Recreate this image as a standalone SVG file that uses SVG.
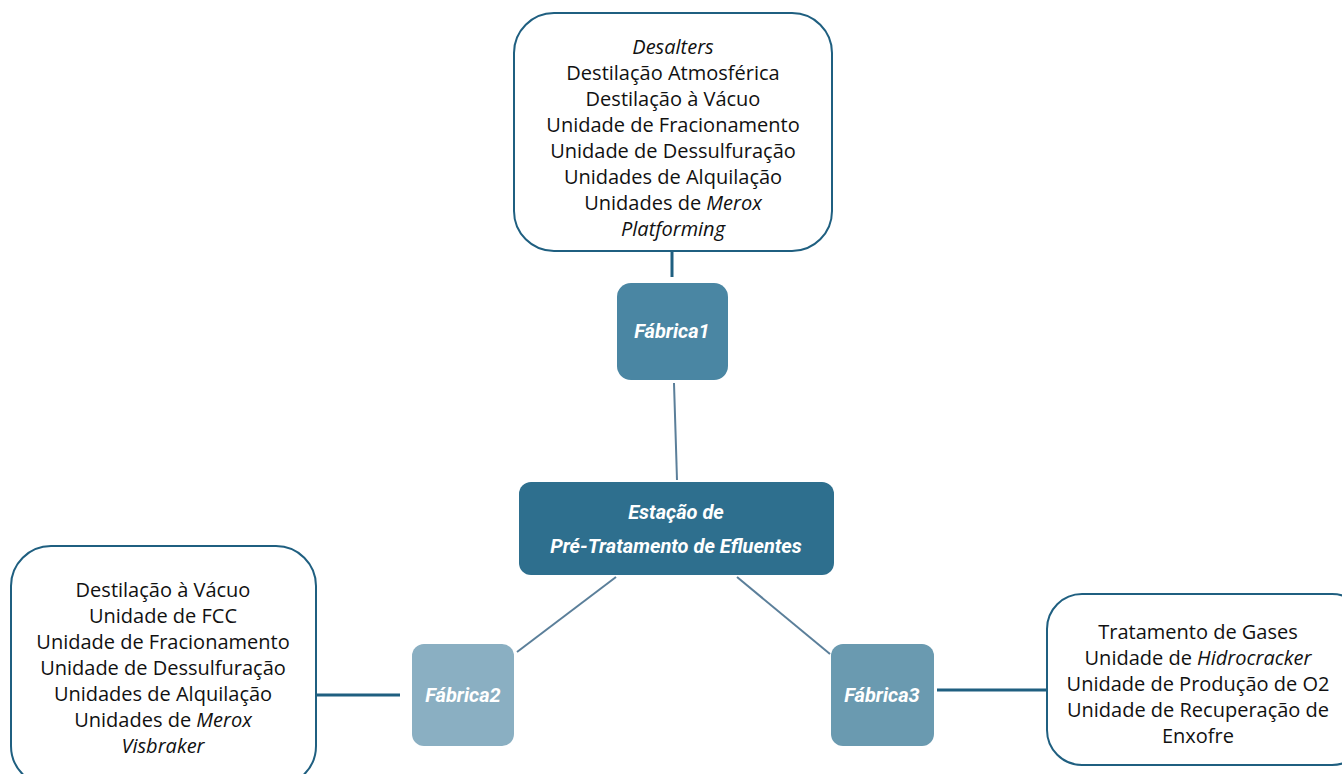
<svg xmlns="http://www.w3.org/2000/svg" width="1342" height="774" viewBox="0 0 1342 774">
<style>
.box{fill:#ffffff;stroke:#1f5f80;stroke-width:2}
.txt{font-family:"Open Sans","Liberation Sans",Arial,sans-serif;font-size:20px;fill:#111111;text-anchor:middle}
.it{font-style:italic}
.lbl{font-family:Roboto,"Liberation Sans",sans-serif;font-weight:bold;font-style:italic;font-size:20px;fill:#ffffff;text-anchor:middle}
.thick{stroke:#1f5f80;stroke-width:3;fill:none}
.thin{stroke:#5b7f9a;stroke-width:2;fill:none}
</style>
<rect width="1342" height="774" fill="#ffffff"/>
<g id="connectors">
<line class="thick" x1="672" y1="251" x2="672" y2="277"/>
<line class="thin" x1="674" y1="383" x2="677" y2="480"/>
<line class="thin" x1="616" y1="577" x2="517" y2="652"/>
<line class="thin" x1="737" y1="577" x2="830" y2="654"/>
<line class="thick" x1="316" y1="695" x2="400" y2="695"/>
<line class="thick" x1="937" y1="690" x2="1046" y2="690"/>
</g>
<g id="units1">
<rect class="box" x="514" y="13" width="318" height="238" rx="40"/>
<text class="txt" x="673" y="54"><tspan class="it">Desalters</tspan></text>
<text class="txt" x="673" y="80">Destilação Atmosférica</text>
<text class="txt" x="673" y="106">Destilação à Vácuo</text>
<text class="txt" x="673" y="132">Unidade de Fracionamento</text>
<text class="txt" x="673" y="158">Unidade de Dessulfuração</text>
<text class="txt" x="673" y="184">Unidades de Alquilação</text>
<text class="txt" x="673" y="210">Unidades de <tspan class="it">Merox</tspan></text>
<text class="txt" x="673" y="236"><tspan class="it">Platforming</tspan></text>
</g>
<g id="fabrica1">
<rect x="617" y="283" width="111" height="97" rx="14" fill="#4a86a3"/>
<text class="lbl" x="672" y="338">Fábrica1</text>
</g>
<g id="estacao">
<rect x="519" y="482" width="315" height="93" rx="12" fill="#2e6f8e"/>
<text class="lbl" x="676" y="519">Estação de</text>
<text class="lbl" x="676" y="553">Pré-Tratamento de Efluentes</text>
</g>
<g id="units2">
<rect class="box" x="11" y="546" width="305" height="240" rx="40"/>
<text class="txt" x="163" y="597">Destilação à Vácuo</text>
<text class="txt" x="163" y="623">Unidade de FCC</text>
<text class="txt" x="163" y="649">Unidade de Fracionamento</text>
<text class="txt" x="163" y="675">Unidade de Dessulfuração</text>
<text class="txt" x="163" y="701">Unidades de Alquilação</text>
<text class="txt" x="163" y="727">Unidades de <tspan class="it">Merox</tspan></text>
<text class="txt" x="163" y="753"><tspan class="it">Visbraker</tspan></text>
</g>
<g id="fabrica2">
<rect x="412" y="644" width="102" height="102" rx="12" fill="#8aafc2"/>
<text class="lbl" x="463" y="702">Fábrica2</text>
</g>
<g id="fabrica3">
<rect x="831" y="644" width="103" height="102" rx="12" fill="#6a9ab0"/>
<text class="lbl" x="882" y="702">Fábrica3</text>
</g>
<g id="units3">
<rect class="box" x="1047" y="594" width="320" height="171" rx="35"/>
<text class="txt" x="1198" y="639">Tratamento de Gases</text>
<text class="txt" x="1198" y="665">Unidade de <tspan class="it">Hidrocracker</tspan></text>
<text class="txt" x="1198" y="691">Unidade de Produção de O2</text>
<text class="txt" x="1198" y="717">Unidade de Recuperação de</text>
<text class="txt" x="1198" y="743">Enxofre</text>
</g>
</svg>
